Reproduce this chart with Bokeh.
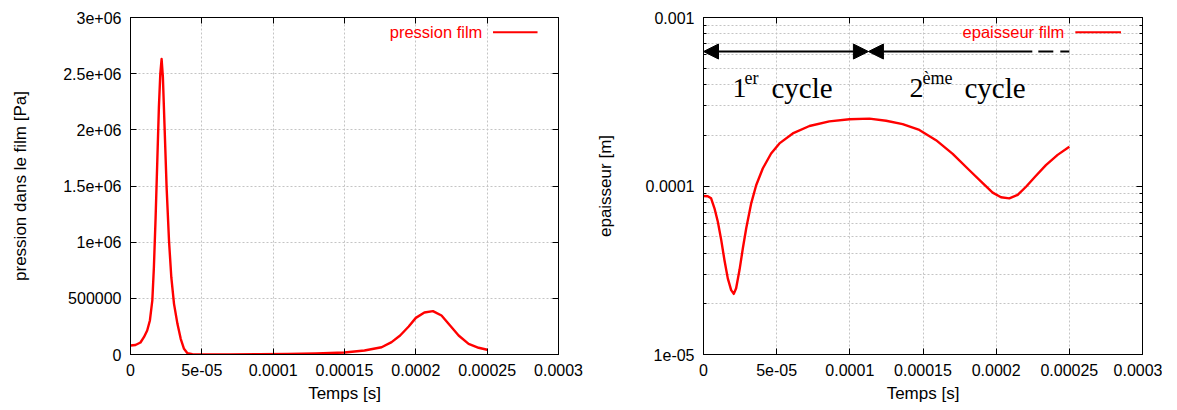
from bokeh.plotting import figure
from bokeh.layouts import row
from bokeh.models import (Range1d, FixedTicker, LinearAxis, LogAxis, Label,
                          Arrow, NormalHead, ColumnDataSource,
                          CustomLabelingPolicy)
from bokeh.embed import file_html
from bokeh.resources import INLINE

# ---------------- data ----------------
time_p = [0, 3.5e-6, 7.0e-6, 9.4e-6, 1.17e-5, 1.36e-5, 1.53e-5, 1.64e-5,
          1.76e-5, 1.88e-5, 1.99e-5, 2.09e-5, 2.18e-5, 2.27e-5, 2.39e-5,
          2.53e-5, 2.70e-5, 2.86e-5, 3.05e-5, 3.29e-5, 3.52e-5, 3.75e-5,
          3.99e-5, 4.34e-5, 5e-5, 7e-5, 9e-5, 1.1e-4, 1.3e-4, 1.5e-4,
          1.64e-4, 1.76e-4, 1.83e-4, 1.89e-4, 1.95e-4, 2.0e-4, 2.06e-4,
          2.12e-4, 2.18e-4, 2.24e-4, 2.3e-4, 2.37e-4, 2.44e-4, 2.5e-4]
pression = [80000, 85000, 107000, 154000, 214000, 303000, 481000, 777000,
            1.22e6, 1.73e6, 2.2e6, 2.5e6, 2.63e6, 2.47e6, 2.02e6, 1.49e6,
            1.01e6, 688000, 451000, 273000, 140000, 51000, 12000, 3000,
            1000, 1500, 3000, 5000, 9000, 18000, 36000, 65000, 110000,
            169000, 249000, 326000, 374000, 386000, 347000, 258000, 169000,
            95000, 60000, 42000]

time_h = [0, 2.9e-6, 5.2e-6, 7.5e-6, 9.8e-6, 1.21e-5, 1.43e-5, 1.66e-5,
          1.89e-5, 2.07e-5, 2.23e-5, 2.46e-5, 2.69e-5, 2.92e-5, 3.26e-5,
          3.6e-5, 4.05e-5, 4.62e-5, 5.19e-5, 6.1e-5, 7.24e-5, 8.6e-5,
          9.97e-5, 1.134e-4, 1.248e-4, 1.361e-4, 1.475e-4, 1.589e-4,
          1.703e-4, 1.817e-4, 1.908e-4, 1.976e-4, 2.033e-4, 2.09e-4,
          2.147e-4, 2.204e-4, 2.272e-4, 2.34e-4, 2.42e-4, 2.5e-4]
epaisseur = [8.72e-5, 8.70e-5, 8.45e-5, 7.37e-5, 6.14e-5, 4.79e-5, 3.64e-5,
             2.83e-5, 2.41e-5, 2.29e-5, 2.47e-5, 3.17e-5, 4.27e-5, 5.61e-5,
             7.89e-5, 1.01e-4, 1.27e-4, 1.56e-4, 1.79e-4, 2.05e-4, 2.27e-4,
             2.42e-4, 2.49e-4, 2.51e-4, 2.44e-4, 2.33e-4, 2.15e-4, 1.87e-4,
             1.55e-4, 1.24e-4, 1.04e-4, 9.13e-5, 8.57e-5, 8.45e-5, 8.85e-5,
             9.9e-5, 1.15e-4, 1.33e-4, 1.53e-4, 1.71e-4]

x_ticks = [0, 5e-5, 1e-4, 1.5e-4, 2e-4, 2.5e-4, 3e-4]
x_labels = ["0", "5e-05", "0.0001", "0.00015", "0.0002", "0.00025", "0.0003"]
p_ticks = [0, 5e5, 1e6, 1.5e6, 2e6, 2.5e6, 3e6]
p_labels = ["0", "500000", "1e+06", "1.5e+06", "2e+06", "2.5e+06", "3e+06"]
h_ticks = [1e-5, 1e-4, 1e-3]
h_labels = ["1e-05", "0.0001", "0.001"]
h_minor = [2e-5, 3e-5, 4e-5, 5e-5, 6e-5, 7e-5, 8e-5, 9e-5,
           2e-4, 3e-4, 4e-4, 5e-4, 6e-4, 7e-4, 8e-4, 9e-4]

# cycle annotation (time boundaries)
cycle1 = [0, 1.127e-4]
cycle2 = [1.127e-4, 2.247e-4]
cycle2_tail = [2.288e-4, 2.5e-4]
arrow_level = 6.28e-4

SANS = "Liberation Sans"
SERIF = "Liberation Serif"
RED = "#ff0000"
GRID = "#c4c4c4"

HIDE_LABELS = "for (const i of indices) indices.unset(i); return indices;"


def style_axis(ax, ticker, labels_map, show_labels=True):
    ax.ticker = ticker
    ax.axis_line_color = "black"
    ax.major_tick_line_color = "black"
    ax.minor_tick_line_color = "black"
    ax.major_tick_in = 6
    ax.major_tick_out = 0
    ax.minor_tick_in = 3
    ax.minor_tick_out = 0
    ax.major_label_overrides = labels_map
    ax.major_label_text_font = SANS
    ax.major_label_text_color = "black"
    if show_labels:
        ax.major_label_text_font_size = "16px"
        ax.major_label_standoff = 9
    else:
        ax.major_label_text_font_size = "1px"
        ax.major_label_standoff = 0
        ax.major_label_policy = CustomLabelingPolicy(code=HIDE_LABELS)
    ax.axis_label_text_font = SANS
    ax.axis_label_text_font_size = "17px"
    ax.axis_label_text_font_style = "normal"
    ax.axis_label_text_color = "black"


def make_fig(frame_w, border_left, border_right, y_type, y_range):
    p = figure(frame_width=frame_w, frame_height=337,
               min_border_left=border_left, min_border_right=border_right,
               min_border_top=17, min_border_bottom=50,
               x_range=Range1d(0, 3e-4), y_range=y_range,
               y_axis_type=y_type, output_backend="svg",
               toolbar_location=None)
    p.outline_line_color = "black"
    p.outline_line_width = 1
    p.background_fill_color = "white"
    p.border_fill_color = "white"
    return p


def add_legend(p, text, y_leg, x_range):
    x0, x1 = x_range
    span = x1 - x0
    p.add_layout(Label(x=x0 + 0.822 * span, y=y_leg, text=text,
                       text_font=SANS, text_font_size="16.5px",
                       text_color=RED, text_align="right",
                       text_baseline="middle"))
    p.add_layout(Arrow(x_start=x0 + 0.847 * span, y_start=y_leg,
                       x_end=x0 + 0.951 * span, y_end=y_leg,
                       start=None, end=None, line_color=RED, line_width=2))


x_ticker = FixedTicker(ticks=x_ticks)
x_map = {t: l for t, l in zip(x_ticks, x_labels)}

# ---------------- left: pression ----------------
p1 = make_fig(428, 130, 30, "linear", Range1d(0, 3e6))
p_ticker = FixedTicker(ticks=p_ticks)
p_map = {t: l for t, l in zip(p_ticks, p_labels)}
p1.add_layout(LinearAxis(), "above")
p1.add_layout(LinearAxis(), "right")
style_axis(p1.below[0], x_ticker, x_map)
style_axis(p1.above[0], x_ticker, x_map, show_labels=False)
style_axis(p1.left[0], p_ticker, p_map)
style_axis(p1.right[0], p_ticker, p_map, show_labels=False)
p1.below[0].axis_label = "Temps [s]"
p1.below[0].axis_label_standoff = 5
p1.left[0].axis_label = "pression dans le film [Pa]"
p1.left[0].axis_label_standoff = 30
for g, tk in ((p1.xgrid[0], x_ticker), (p1.ygrid[0], p_ticker)):
    g.ticker = tk
    g.grid_line_color = GRID
    g.grid_line_dash = "2 2"
    g.grid_line_width = 1

src_p = ColumnDataSource(dict(t=time_p, v=pression))
p1.line("t", "v", source=src_p, line_color=RED, line_width=2.4,
        line_join="round")
add_legend(p1, "pression film", 2.869e6, (0, 3e-4))

# ---------------- right: epaisseur ----------------
p2 = make_fig(439, 115, 20, "log", Range1d(1e-5, 1e-3))
h_ticker = FixedTicker(ticks=h_ticks, minor_ticks=h_minor)
h_map = {t: l for t, l in zip(h_ticks, h_labels)}
p2.add_layout(LinearAxis(), "above")
p2.add_layout(LogAxis(), "right")
style_axis(p2.below[0], x_ticker, x_map)
style_axis(p2.above[0], x_ticker, x_map, show_labels=False)
style_axis(p2.left[0], h_ticker, h_map)
style_axis(p2.right[0], h_ticker, h_map, show_labels=False)
p2.below[0].axis_label = "Temps [s]"
p2.below[0].axis_label_standoff = 5
p2.left[0].axis_label = "epaisseur [m]"
p2.left[0].axis_label_standoff = 28
for g, tk in ((p2.xgrid[0], x_ticker), (p2.ygrid[0], h_ticker)):
    g.ticker = tk
    g.grid_line_color = GRID
    g.grid_line_dash = "2 2"
    g.grid_line_width = 1
p2.ygrid[0].minor_grid_line_color = GRID
p2.ygrid[0].minor_grid_line_dash = "2 2"

src_h = ColumnDataSource(dict(t=time_h, v=epaisseur))
p2.line("t", "v", source=src_h, line_color=RED, line_width=2.4,
        line_join="round")
add_legend(p2, "epaisseur film", 8.18e-4, (0, 3e-4))

# cycle arrows
p2.add_layout(Arrow(x_start=cycle1[0], y_start=arrow_level,
                    x_end=cycle1[1], y_end=arrow_level,
                    start=NormalHead(size=15, fill_color="black", line_color="black"),
                    end=NormalHead(size=15, fill_color="black", line_color="black"),
                    line_color="black", line_width=2))
p2.add_layout(Arrow(x_start=cycle2[0], y_start=arrow_level,
                    x_end=cycle2[1], y_end=arrow_level,
                    start=NormalHead(size=15, fill_color="black", line_color="black"),
                    end=None, line_color="black", line_width=2))
p2.add_layout(Arrow(x_start=cycle2_tail[0], y_start=arrow_level,
                    x_end=cycle2_tail[1], y_end=arrow_level,
                    start=None, end=None, line_color="black", line_width=2,
                    line_dash="15 7"))

base_y = 3.79e-4
sup_y = 4.345e-4
for x, txt, size, yy in ((1.98e-5, "1", "28px", base_y),
                         (2.80e-5, "er", "18px", sup_y),
                         (4.64e-5, "cycle", "29px", base_y),
                         (1.407e-4, "2", "28px", base_y),
                         (1.496e-4, "ème", "18px", sup_y),
                         (1.783e-4, "cycle", "29px", base_y)):
    p2.add_layout(Label(x=x, y=yy, text=txt, text_font=SERIF,
                        text_font_size=size, text_color="black",
                        text_align="left", text_baseline="alphabetic"))

layout = row(p1, p2)
open("out.html", "w").write(file_html(layout, INLINE))
